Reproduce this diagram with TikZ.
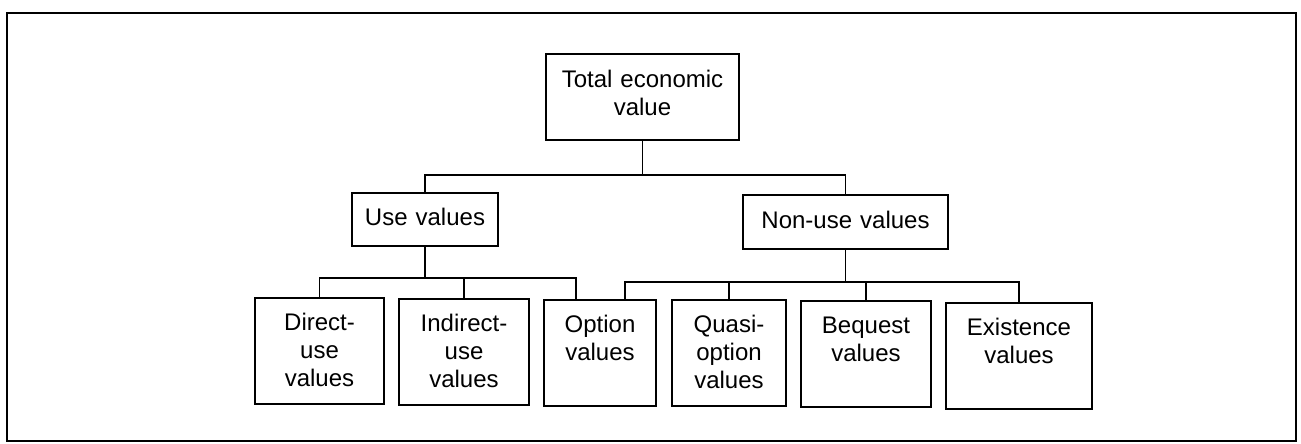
\documentclass[tikz,border=0pt]{standalone}
\usepackage{fontspec}
\setmainfont{Liberation Sans}
\tikzset{
  valbox/.style={draw, line width=1.3pt, inner sep=0pt, align=center, anchor=north,
    font=\fontsize{18}{21}\selectfont, text height=24.75pt, text depth=15pt},
  leafbox/.style={valbox, text depth=54.75pt},
  link/.style={line width=1.3pt}
}
\begin{document}
\begin{tikzpicture}[x=0.75pt,y=0.75pt,yscale=-1,xscale=1]
\useasboundingbox (0,0) rectangle (1301,443);

%Shape: Frame
\draw [line width=2pt] (7,13) rectangle (1296,441);

%Top level
\node [valbox, text width=144.75pt, text height=25.5pt, text depth=39pt] (total) at (642.5,53) {Total economic\\value};

%Second level
\node [valbox, text width=109.5pt] (usev) at (425,192) {Use values};
\node [valbox, text width=153.75pt, text height=25.5pt] (nonuse) at (845.5,194) {Non-use values};

%Third level
\node [leafbox, text width=96.75pt] (direct) at (319.5,297) {Direct-\\use\\values};
\node [leafbox, text width=97.5pt] (indirect) at (464,298) {Indirect-\\use\\values};
\node [leafbox, text width=84pt] (option) at (600,299) {Option\\values};
\node [leafbox, text width=85.5pt] (quasi) at (729,299) {Quasi-\\option\\values};
\node [leafbox, text width=97.5pt] (bequest) at (866,300) {Bequest\\values};
\node [leafbox, text width=109.5pt] (existence) at (1019,302) {Existence\\values};

%Connectors
\coordinate (tbus) at (642.5,175);
\coordinate (ubus) at (425,278);
\coordinate (nbus) at (845.5,282);
\draw [link] (total.south) -- (tbus);
\draw [link] (tbus) -| (usev.north);
\draw [link] (tbus) -| (nonuse.north);
\draw [link] (usev.south) -- (ubus);
\draw [link] (ubus) -| (direct.north);
\draw [link] (ubus) -| (indirect.north);
\draw [link] (ubus) -| ([xshift=-18pt]option.north);
\draw [link] (nonuse.south) -- (nbus);
\draw [link] (nbus) -| ([xshift=18.75pt]option.north);
\foreach \leaf in {quasi,bequest,existence}
  \draw [link] (nbus) -| (\leaf.north);

\end{tikzpicture}
\end{document}
